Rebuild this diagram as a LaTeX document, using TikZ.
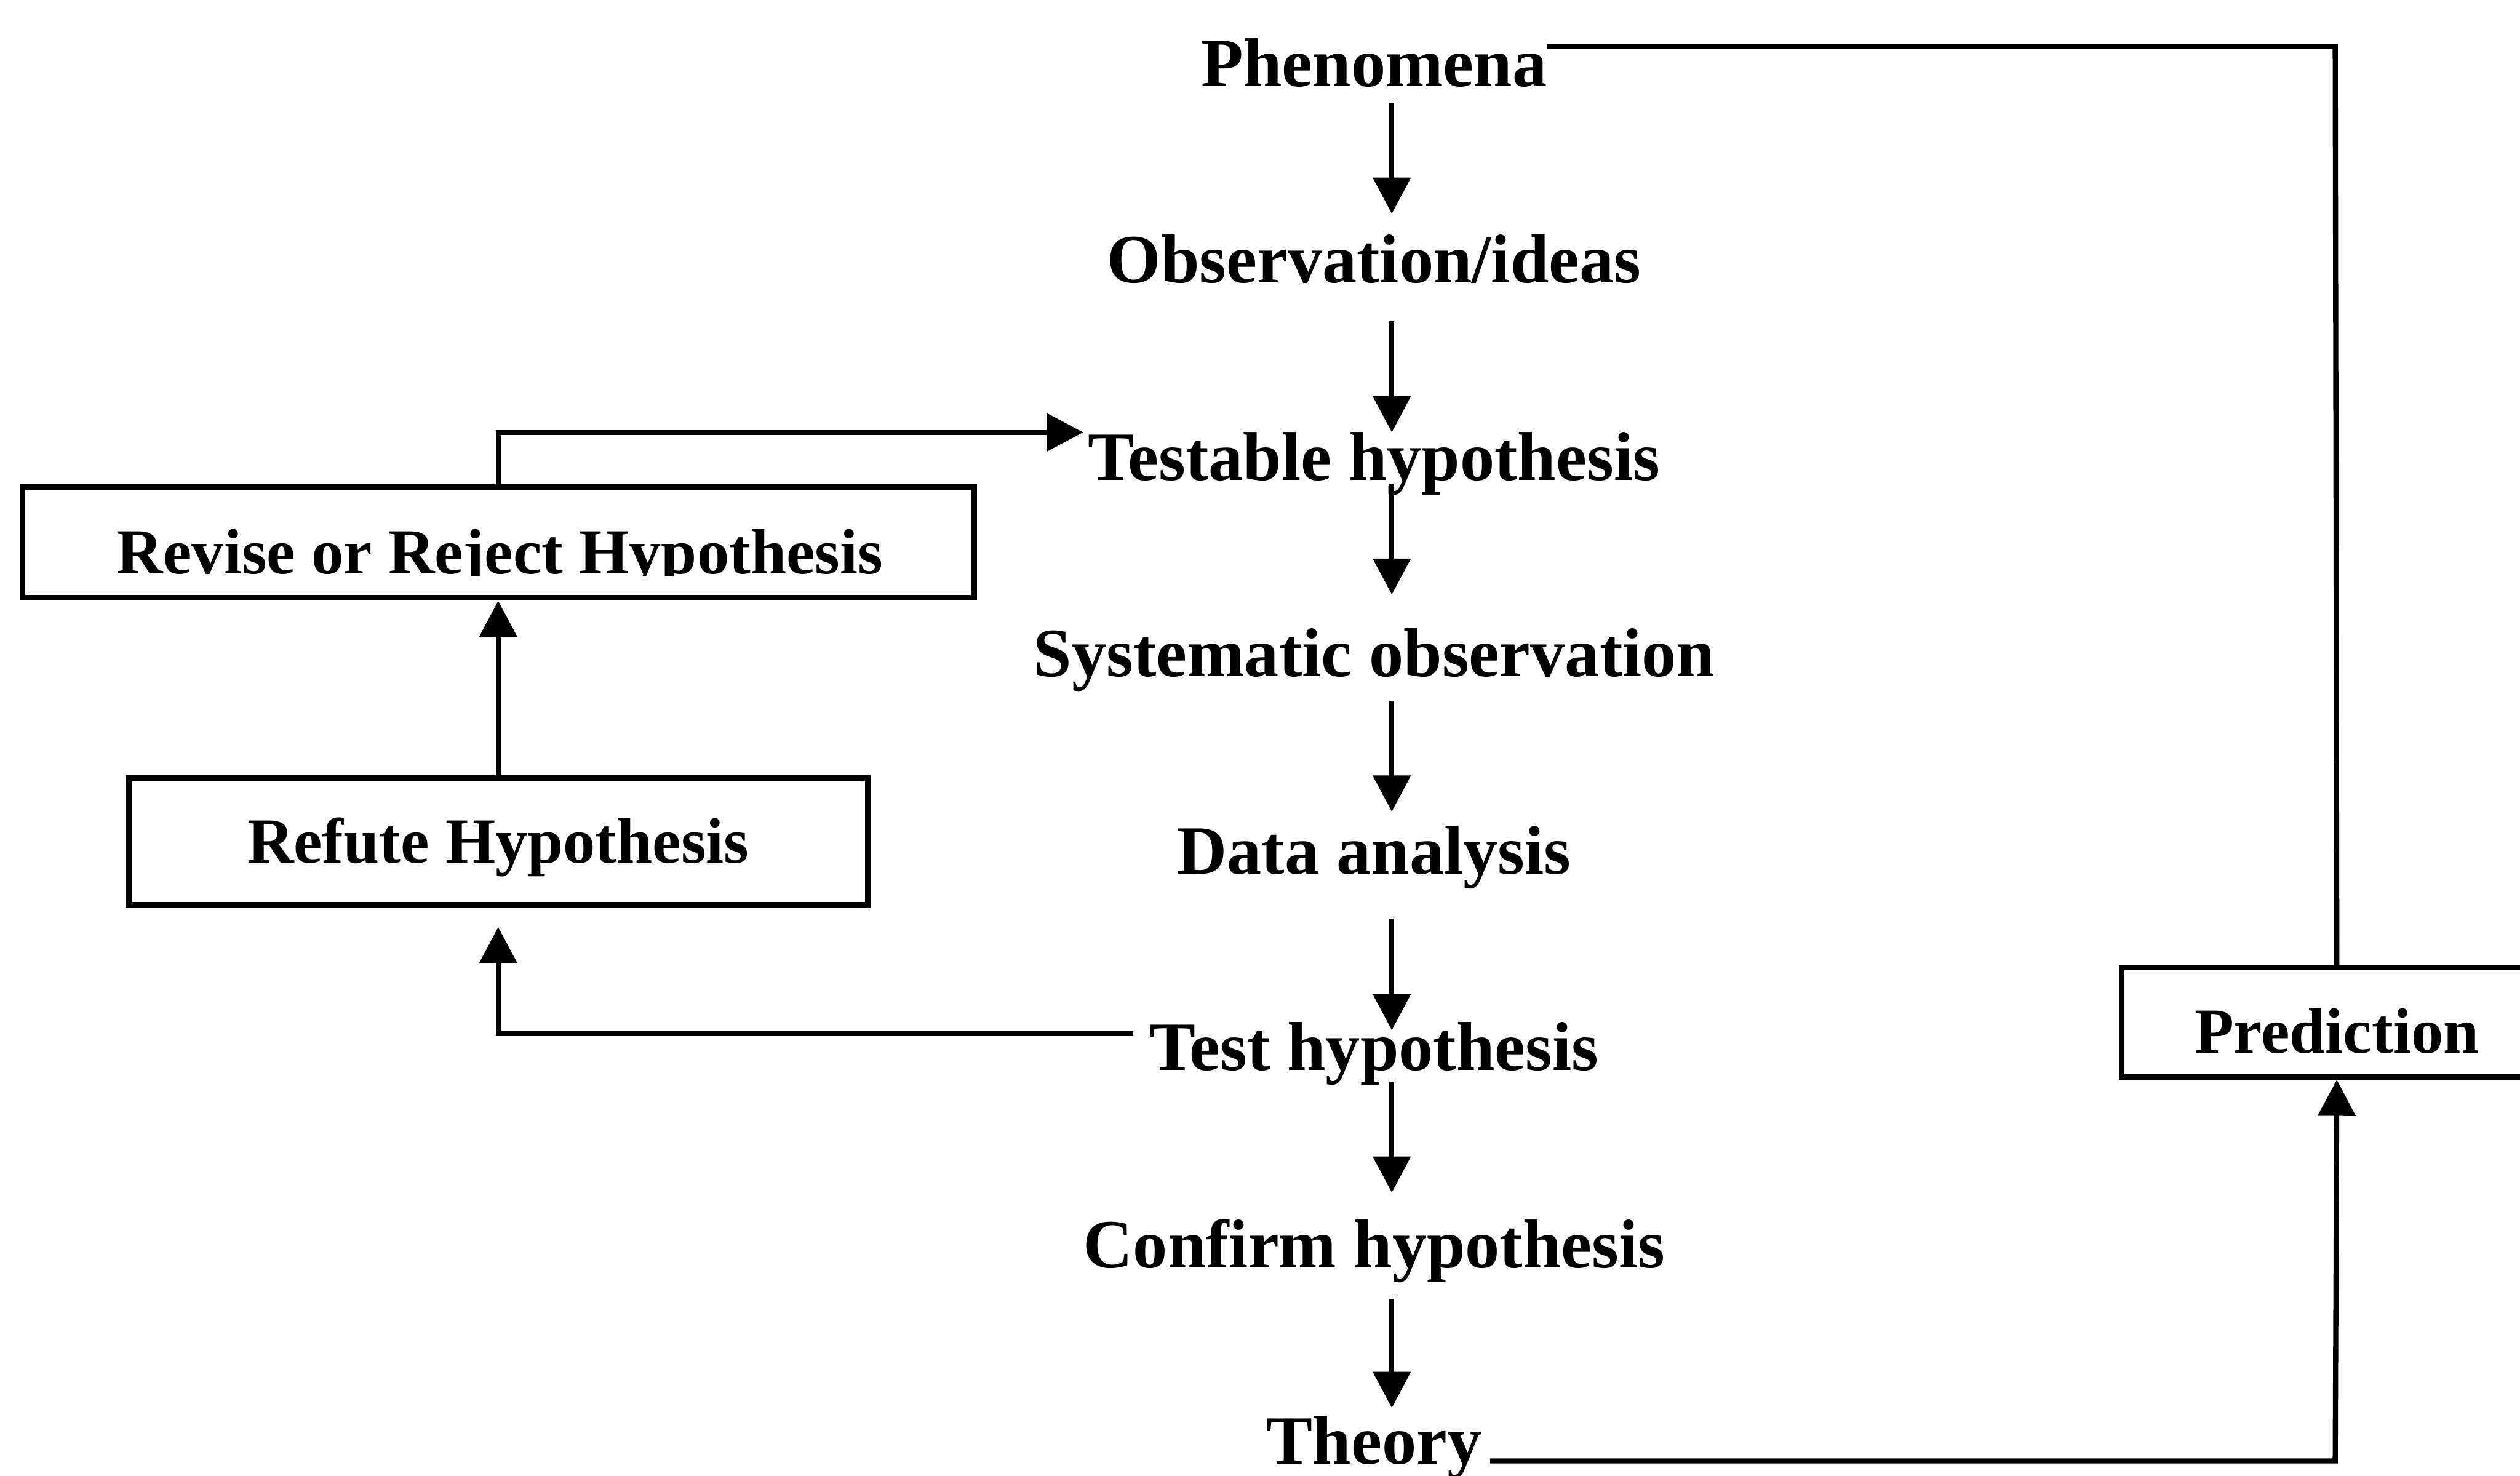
\documentclass[tikz,border=0pt]{standalone}
\usepackage{fontspec}
\setmainfont{Liberation Serif}
\usetikzlibrary{arrows.meta}
\begin{document}
\begin{tikzpicture}[x=1pt,y=-1pt,
  stage/.style={inner sep=0pt, anchor=base, font=\bfseries\fontsize{43}{50}\selectfont},
  boxed/.style={draw, line width=3.6pt, inner sep=0pt, font=\bfseries\fontsize{40}{46}\selectfont},
  boxtext/.style={inner sep=0pt, anchor=base, font=\bfseries\fontsize{40}{46}\selectfont},
  link/.style={line width=3.2pt},
  flow/.style={link, -{Triangle[width=23pt,length=22.5pt]}},
]
\useasboundingbox (0,0) rectangle (1568,918);
\clip (0,0) rectangle (1568,918);

% main column of stages
\node[stage] (phen) at (855,53.6)  {Phenomena};
\node[stage] (obs)  at (855,176)   {Observation/ideas};
\node[stage] (tstb) at (855,298.6) {Testable hypothesis};
\node[stage] (sys)  at (855,421)   {Systematic observation};
\node[stage] (data) at (855,543.6) {Data analysis};
\node[stage] (test) at (855,666)   {Test hypothesis};
\node[stage] (conf) at (855,788.6) {Confirm hypothesis};
\node[stage] (theo) at (855,911)   {Theory};

% side boxes
\begin{scope}
  \clip (14,300) rectangle (606,358.5);
  \node[boxtext] (revtxt) at (311,357) {Revise or Reject Hypothesis};
\end{scope}
\node[boxed, minimum width=592pt, minimum height=69pt] (rev) at (310,337.5) {};
\node[boxed, minimum width=460pt, minimum height=79pt, text height=30pt, text depth=3pt]
  (refute) at (310,523.5) {Refute Hypothesis};
\node[boxed, minimum width=268pt, minimum height=68pt, text height=40pt, text depth=2pt]
  (pred) at (1454,636) {Prediction};

% helper coordinates for the connector routes
\coordinate (ax) at (866,0);
\coordinate (topy) at (0,29);
\coordinate (boty) at (0,909);
\coordinate (testy) at (0,643);
\coordinate (revy) at (0,269);
\coordinate (px) at (1453,0);

% downward flow
\draw[flow, shorten <=10.4pt, shorten >=43pt]   (phen.base -| ax) -- (obs.base -| ax);
\draw[flow, shorten <=24pt,   shorten >=29.6pt] (obs.base -| ax)  -- (tstb.base -| ax);
\draw[flow, shorten <=2.4pt,  shorten >=51pt]   (tstb.base -| ax) -- (sys.base -| ax);
\draw[flow, shorten <=15pt,   shorten >=38.6pt] (sys.base -| ax)  -- (data.base -| ax);
\draw[flow, shorten <=28.4pt, shorten >=25pt]   (data.base -| ax) -- (test.base -| ax);
\draw[flow, shorten <=7pt,    shorten >=46.6pt] (test.base -| ax) -- (conf.base -| ax);
\draw[flow, shorten <=19.4pt, shorten >=35pt]   (conf.base -| ax) -- (theo.base -| ax);

% refutation loop
\draw[flow, shorten <=10pt, shorten >=12pt]
  (test.west |- testy) -- (refute.south |- testy) -- (refute.south);
\draw[flow] (refute.north) -- (rev.south);
\draw[flow, shorten >=3pt]
  (rev.north) -- (rev.north |- revy) -- (tstb.west |- revy);

% prediction loop
\draw[flow, shorten <=5pt]
  (theo.east |- boty) -- (px |- boty) -- (pred.south);
\draw[link] (phen.east |- topy) -- (px |- topy) -- (pred.north);
\end{tikzpicture}
\end{document}
